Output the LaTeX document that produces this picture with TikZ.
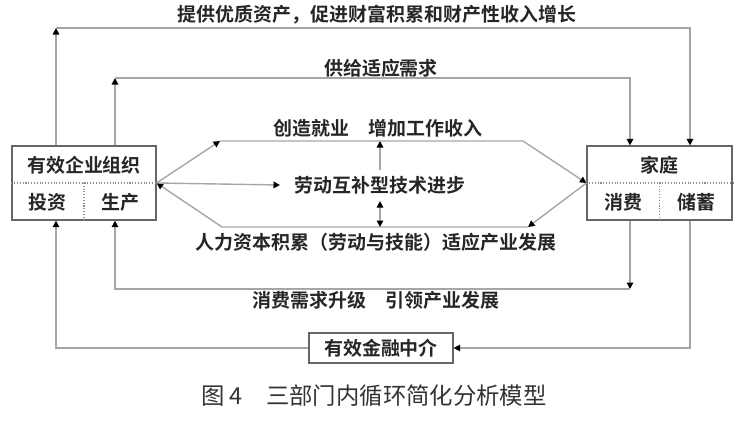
\documentclass[tikz,border=0pt]{standalone}
\usepackage{fontspec}
\setmainfont{Noto Sans CJK SC}[BoldFont={Noto Sans CJK SC Bold}]
\usetikzlibrary{arrows.meta,positioning}

\begin{document}
\begin{tikzpicture}[
    x=0.02cm, y=-0.02cm,
    box/.style={rectangle, draw=black!60, line width=0.7pt, inner sep=0pt},
    lbl/.style={font=\bfseries\fontsize{10.8}{13}\selectfont, text=black!85, inner sep=1pt},
    flow/.style={draw=black!35, line width=0.8pt},
    arrow/.style={flow, -{Triangle[length=1.3mm,width=1.3mm,color=black]}},
    dblarrow/.style={flow, {Triangle[length=1.3mm,width=1.3mm,color=black]}-{Triangle[length=1.3mm,width=1.3mm,color=black]}},
    divider/.style={draw=black!45, line width=0.6pt, densely dotted}
]
    \useasboundingbox (0,0) rectangle (748,423);

    % sectors
    \node[box, minimum width=2.88cm, minimum height=1.48cm] (firm) at (84,183) {};
    \node[box, minimum width=2.9cm, minimum height=1.48cm] (home) at (659.5,183) {};
    \node[box, lbl, minimum width=2.88cm, minimum height=0.6cm] (fin) at (381,348) {有效金融中介};
    \draw[divider] (firm.west) -- (firm.east);
    \draw[divider] (firm.center) -- (firm.south);
    \draw[divider] (home.west) -- (home.east);
    \draw[divider] (home.center) -- (home.south);

    \node[lbl] (firmname) at (84,165) {有效企业组织};
    \node[lbl] (invest) at (47,202) {投资};
    \node[lbl] (produce) at (120,202) {生产};
    \node[lbl] (homename) at (659,165) {家庭};
    \node[lbl] (consume) at (623,202) {消费};
    \node[lbl] (save) at (696,202) {储蓄};

    % outer loops
    \coordinate (ot1) at (56,28);
    \coordinate (ot2) at (690,28);
    \coordinate (it1) at (115,78);
    \coordinate (it2) at (630,78);
    \coordinate (ib1) at (630,289);
    \coordinate (ib2) at (115,289);
    \coordinate (ob1) at (690,348);
    \coordinate (ob2) at (56,348);
    \draw[arrow] (firm.north -| ot1) -- (ot1);
    \draw[arrow] (ot1) -- (ot2) -- (home.north -| ot2);
    \draw[arrow] (firm.north -| it1) -- (it1);
    \draw[arrow] (it1) -- (it2) -- (home.north -| it2);
    \draw[arrow] (home.south -| ib1) -- (ib1);
    \draw[arrow] (ib1) -- (ib2) -- (firm.south -| ib2);
    \draw[arrow] (home.south -| ob1) -- (ob1) -- (fin.east);
    \draw[arrow] (fin.west) -- (ob2) -- (firm.south -| ob2);

    % middle channels
    \node[lbl] (tech) at (380,185) {劳动互补型技术进步};
    \coordinate (tl) at (220,141);
    \coordinate (tr) at (523,141);
    \coordinate (bl) at (222,227);
    \coordinate (br) at (528,227);
    \draw[arrow] (firm.east) -- (tl);
    \draw[arrow] (tl) -- (tr) -- (home.west);
    \draw[arrow] (home.west) -- (br);
    \draw[arrow] (br) -- (bl) -- (firm.east);
    \draw[arrow] (firm.east) -- ([xshift=-0.25cm]tech.west);
    \draw[arrow] ([yshift=0.08cm]tech.north) -- (tech.north |- tl);
    \draw[dblarrow] ([yshift=-0.1cm]tech.south) -- (tech.south |- bl);

    % labels
    \node[lbl] (assets) at (377,15) {提供优质资产，促进财富积累和财产性收入增长};
    \node[lbl] (supply) at (381,68) {供给适应需求};
    \node[lbl] (jobs) at (378,128) {创造就业\quad 增加工作收入};
    \node[lbl] (human) at (376,242) {人力资本积累（劳动与技能）适应产业发展};
    \node[lbl] (upgrade) at (376,300) {消费需求升级\quad 引领产业发展};
    \node[font=\fontsize{13.3}{16}\selectfont, text=black!80] (caption) at (374,396) {图 4\quad 三部门内循环简化分析模型};
\end{tikzpicture}
\end{document}
